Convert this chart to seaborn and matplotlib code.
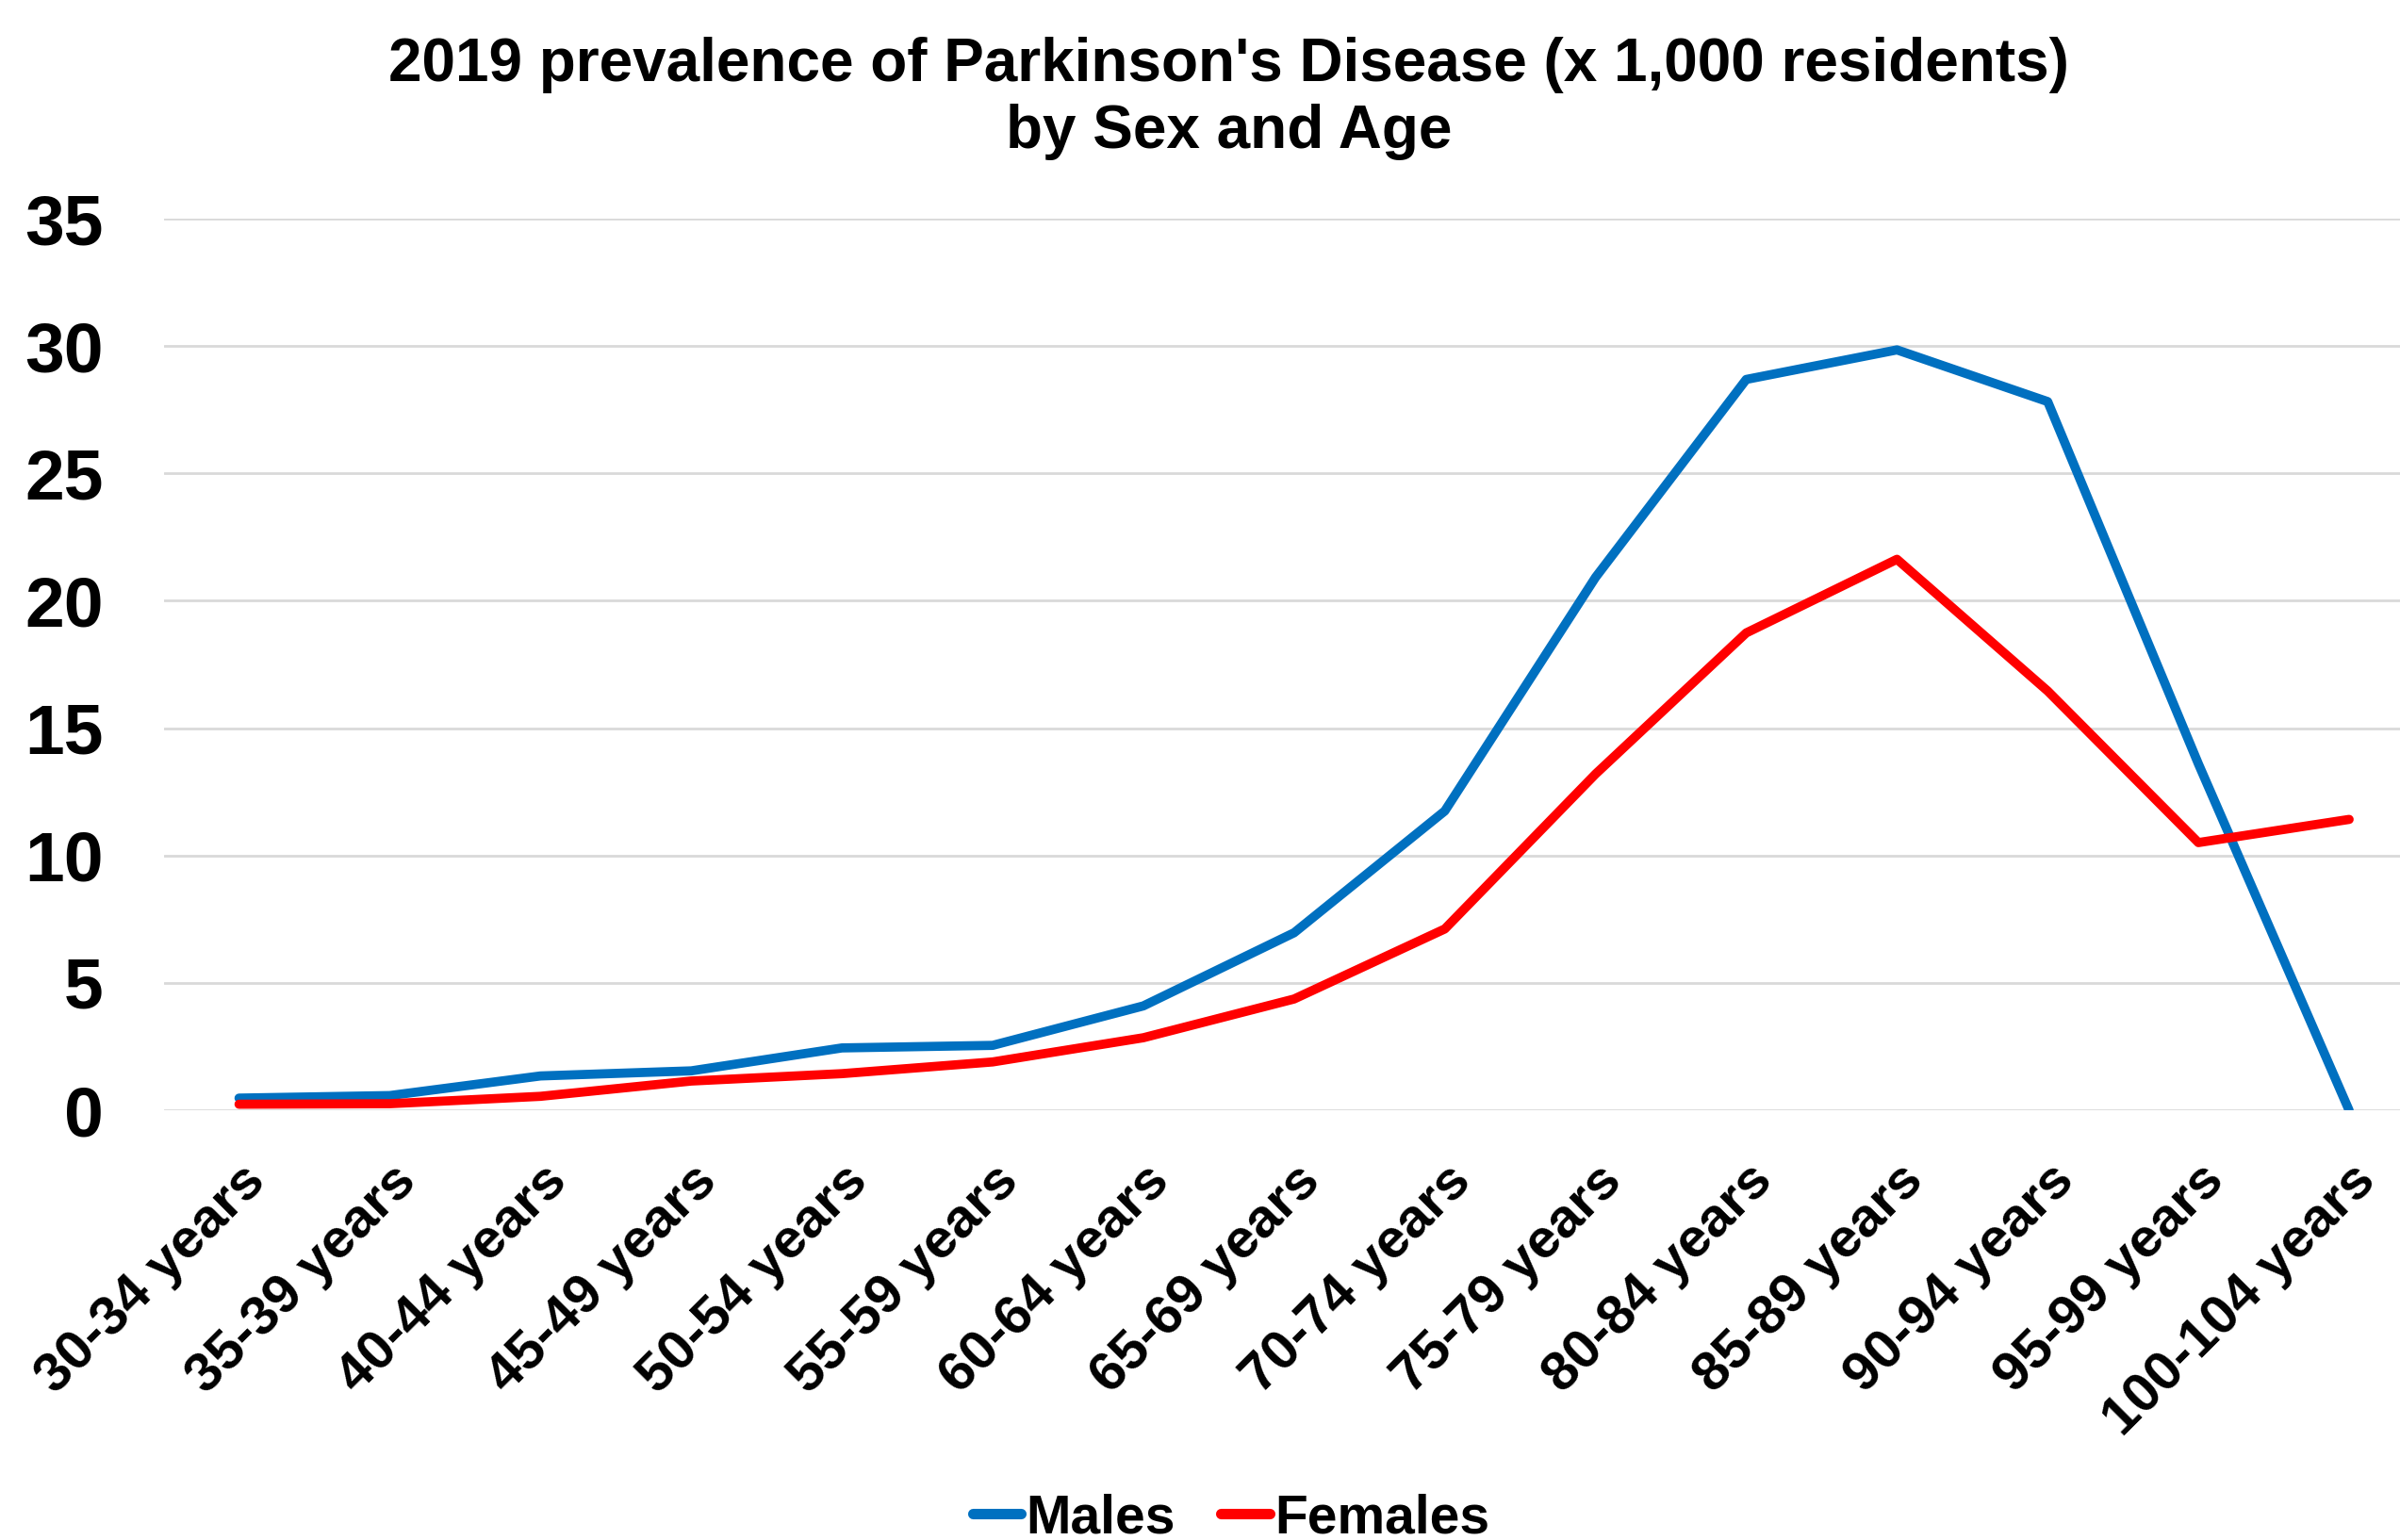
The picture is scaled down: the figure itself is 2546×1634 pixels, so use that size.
import pandas as pd
import seaborn as sns
import matplotlib.pyplot as plt

# Values
age_groups = ['30-34 years', '35-39 years', '40-44 years', '45-49 years', '50-54 years',
              '55-59 years', '60-64 years', '65-69 years', '70-74 years', '75-79 years',
              '80-84 years', '85-89 years', '90-94 years', '95-99 years', '100-104 years']
males = [0.48, 0.58, 1.35, 1.55, 2.45, 2.55, 4.1, 6.97, 11.75, 20.92,
         28.69, 29.85, 27.82, 13.6, 0.0]
females = [0.24, 0.26, 0.55, 1.15, 1.44, 1.9, 2.85, 4.37, 7.12, 13.2,
           18.74, 21.63, 16.46, 10.51, 11.42]
series_names = ['Males', 'Females']
series_colors = {'Males': '#0070C0', 'Females': '#FF0000'}

df = pd.DataFrame({
    'x': list(range(len(age_groups))) * 2,
    'value': males + females,
    'sex': ['Males'] * len(males) + ['Females'] * len(females),
})

sns.set_style('white')
plt.rcParams['font.family'] = ['Liberation Sans', 'DejaVu Sans']
plt.rcParams['font.weight'] = 'bold'
plt.rcParams['text.color'] = 'black'
plt.rcParams['xtick.color'] = 'black'
plt.rcParams['ytick.color'] = 'black'

fig = plt.figure(figsize=(25.46, 16.34), dpi=100)
ax = fig.add_axes([0.0682, 0.279, 0.942, 0.579])

sns.lineplot(data=df, x='x', y='value', hue='sex', hue_order=series_names,
             palette=series_colors, linewidth=7, ax=ax, legend=False)

ax.set_xlim(-0.5, len(age_groups) - 0.5)
ax.set_ylim(0, 35)
ax.set_yticks(range(0, 36, 5))
ax.set_xticks(range(len(age_groups)))
ax.set_xticklabels(age_groups, rotation=45, ha='right', rotation_mode='anchor',
                   fontsize=42, fontweight='bold')
ax.tick_params(axis='y', labelsize=54, length=0, pad=46)
ax.tick_params(axis='x', length=0, pad=34)
for lbl in ax.get_yticklabels():
    lbl.set_fontweight('bold')
ax.set_xlabel('')
ax.set_ylabel('')
ax.grid(axis='y', color='#D9D9D9', linewidth=2)
ax.set_axisbelow(True)
for s in ax.spines.values():
    s.set_visible(False)

fig.text(0.512, 0.936, "2019 prevalence of Parkinson's Disease (x 1,000 residents)\nby Sex and Age",
         ha='center', va='center', fontsize=46, fontweight='bold', linespacing=1.25)

handles = [plt.Line2D([], [], color=series_colors[n], linewidth=8, solid_capstyle='round')
           for n in series_names]
fig.legend(handles, series_names, loc='center', bbox_to_anchor=(0.513, 0.014), ncol=2,
           frameon=False, handlelength=0.9, handletextpad=0.1,
           columnspacing=0.85, prop={'weight': 'bold', 'size': 41})

fig.savefig('out.png', dpi=100)
